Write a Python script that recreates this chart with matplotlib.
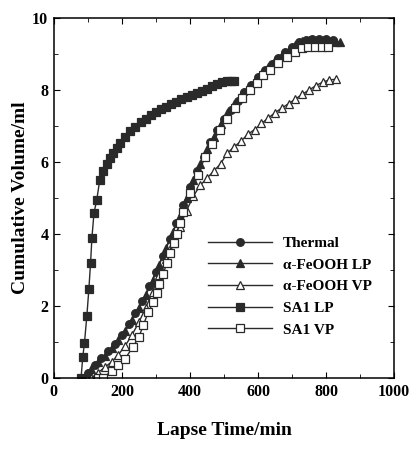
import numpy as np
import matplotlib
matplotlib.use('Agg')
import matplotlib.pyplot as plt

plt.rcParams['font.family'] = ['Liberation Serif', 'DejaVu Serif']
plt.rcParams['font.weight'] = 'bold'

# Thermal (filled circles)
thermal_x = [80, 100, 120, 140, 160, 180, 200, 220, 240, 260, 280, 300, 320, 340, 360,
             380, 400, 420, 440, 460, 480, 500, 520, 540, 560, 580, 600, 620, 640, 660,
             680, 700, 720, 740, 760, 780, 800, 820]
thermal_y = [0.0, 0.15, 0.35, 0.55, 0.75, 0.95, 1.2, 1.5, 1.8, 2.15, 2.55, 2.95, 3.4, 3.85, 4.3,
             4.8, 5.3, 5.75, 6.15, 6.55, 6.9, 7.2, 7.45, 7.7, 7.95, 8.15, 8.35, 8.55, 8.72, 8.9,
             9.05, 9.2, 9.32, 9.4, 9.42, 9.43, 9.42, 9.4]

# alpha-FeOOH LP (filled triangles)
felp_x = [90, 110, 130, 150, 170, 190, 210, 230, 250, 270, 290, 310, 330, 350, 370,
          390, 410, 430, 450, 470, 490, 510, 530, 550, 570, 590, 610, 630, 650, 670,
          690, 710, 730, 750, 770, 790, 810, 830, 840]
felp_y = [0.0, 0.25, 0.45, 0.62, 0.82, 1.05, 1.3, 1.6, 1.95, 2.3, 2.7, 3.15, 3.6, 4.05, 4.5,
          5.0, 5.5, 5.95, 6.35, 6.7, 7.05, 7.35, 7.6, 7.85, 8.05, 8.25, 8.45, 8.65, 8.82, 8.98,
          9.12, 9.25, 9.35, 9.4, 9.4, 9.38, 9.35, 9.33, 9.32]

# alpha-FeOOH VP (open triangles)
fevp_x = [110, 130, 150, 170, 190, 210, 230, 250, 270, 290, 310, 330, 350, 370, 390,
          410, 430, 450, 470, 490, 510, 530, 550, 570, 590, 610, 630, 650, 670, 690,
          710, 730, 750, 770, 790, 810, 830]
fevp_y = [0.0, 0.15, 0.3, 0.45, 0.65, 0.9, 1.2, 1.55, 1.95, 2.4, 2.85, 3.3, 3.75, 4.2, 4.65,
          5.05, 5.35, 5.55, 5.75, 5.95, 6.25, 6.42, 6.58, 6.77, 6.9, 7.07, 7.22, 7.37, 7.5, 7.62,
          7.75, 7.88, 8.0, 8.12, 8.22, 8.28, 8.3]

# SA1 LP (filled squares)
salp_x = [80, 85, 90, 97, 103, 108, 112, 118, 126, 135, 145, 155, 165, 175, 185, 195,
          210, 225, 240, 255, 270, 285, 300, 315, 330, 345, 360, 375, 390, 405, 420,
          435, 450, 465, 480, 495, 510, 520, 530]
salp_y = [0.0, 0.58, 0.97, 1.72, 2.47, 3.2, 3.9, 4.58, 4.94, 5.5, 5.75, 5.95, 6.1, 6.25, 6.4, 6.52,
          6.7, 6.85, 6.98, 7.1, 7.2, 7.3, 7.38, 7.46, 7.53, 7.6, 7.67, 7.74, 7.8, 7.86, 7.92,
          7.98, 8.04, 8.1, 8.16, 8.22, 8.25, 8.26, 8.26]

# SA1 VP (open squares)
savp_x = [130, 145, 170, 190, 209, 233, 250, 263, 278, 292, 302, 310, 322, 332, 342,
          352, 361, 370, 380, 400, 424, 444, 465, 488, 508, 532, 553, 576, 597, 615,
          635, 659, 685, 709, 729, 747, 768, 788, 805]
savp_y = [0.0, 0.0, 0.2, 0.37, 0.53, 0.87, 1.14, 1.47, 1.84, 2.1, 2.36, 2.6, 2.9, 3.2, 3.47,
          3.75, 4.0, 4.3, 4.6, 5.14, 5.63, 6.14, 6.5, 6.9, 7.2, 7.5, 7.78, 8.0, 8.19, 8.42,
          8.56, 8.75, 8.92, 9.06, 9.17, 9.2, 9.2, 9.2, 9.2]

fig = plt.figure(figsize=(4.14, 4.5), dpi=100)
ax = fig.add_axes([0.13, 0.16, 0.822, 0.80])

c = '#2a2a2a'
kw = dict(color=c, lw=1.0, ms=5.5, mec=c, mew=0.9)
ax.plot(thermal_x, thermal_y, marker='o', mfc=c, label='Thermal', **kw)
ax.plot(felp_x, felp_y, marker='^', mfc=c, label='α-FeOOH LP', **kw)
ax.plot(fevp_x, fevp_y, marker='^', mfc='white', label='α-FeOOH VP', **kw)
ax.plot(salp_x, salp_y, marker='s', mfc=c, label='SA1 LP', **kw)
ax.plot(savp_x, savp_y, marker='s', mfc='white', label='SA1 VP', **kw)

ax.set_xlim(0, 1000)
ax.set_ylim(0, 10)
ax.set_xticks([0, 200, 400, 600, 800, 1000])
ax.set_yticks([0, 2, 4, 6, 8, 10])
ax.set_xticks(np.arange(100, 1000, 200), minor=True)
ax.set_yticks(np.arange(1, 10, 2), minor=True)
ax.tick_params(which='both', direction='in', top=True, right=True, labelsize=11.5, pad=4)
ax.tick_params(which='major', length=4)
ax.tick_params(which='minor', length=3)
for s in ax.spines.values():
    s.set_linewidth(1.1)

ax.set_xlabel('Lapse Time/min', fontsize=14, fontweight='bold', labelpad=16)
ax.set_ylabel('Cumulative Volume/ml', fontsize=14, fontweight='bold', labelpad=2)

leg = ax.legend(loc='upper left', bbox_to_anchor=(0.435, 0.41), frameon=False,
                fontsize=11, handlelength=4.2, handletextpad=0.7, labelspacing=0.52,
                borderaxespad=0)

fig.savefig('out.png', dpi=100)
